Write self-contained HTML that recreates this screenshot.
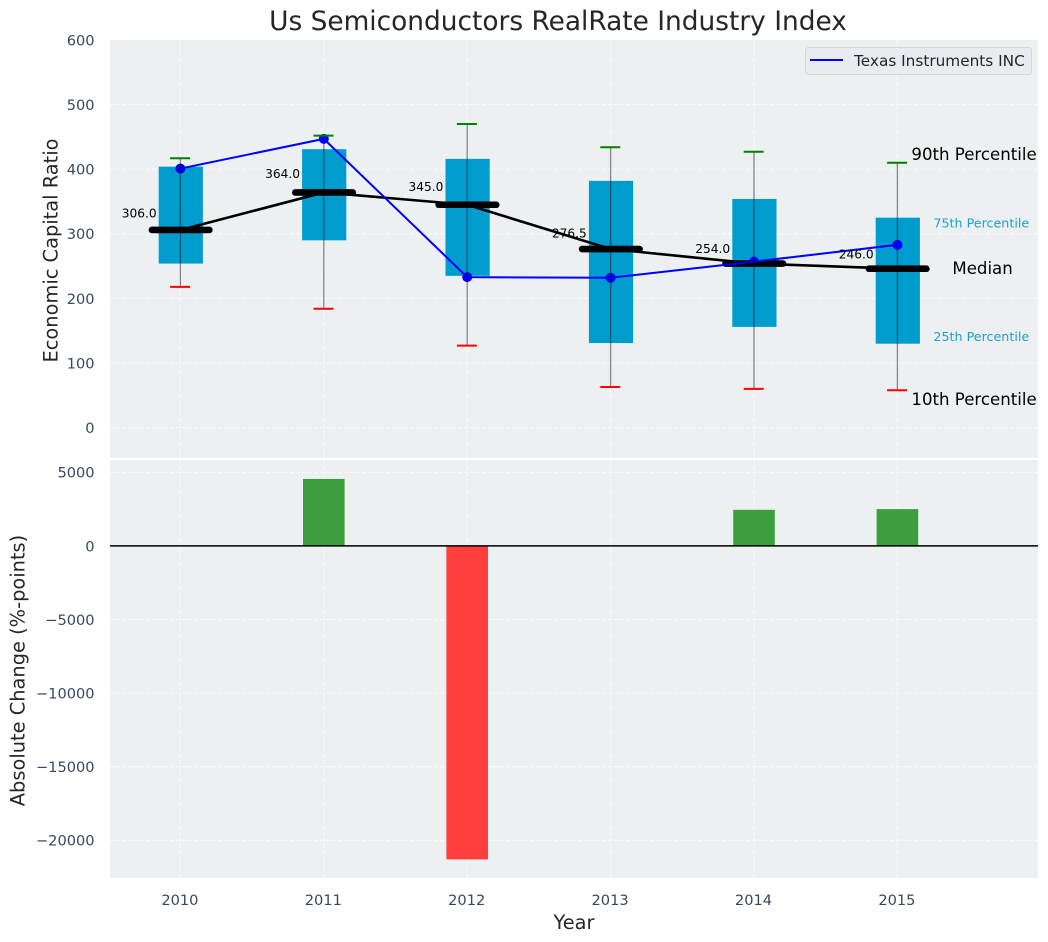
<!DOCTYPE html>
<html>
<head>
<meta charset="utf-8">
<title>Us Semiconductors RealRate Industry Index</title>
<style>
html,body{margin:0;padding:0;background:#fff;}
svg{display:block;font-family:"DejaVu Sans","Liberation Sans",sans-serif;}
</style>
</head>
<body>
<svg id="chart" xmlns="http://www.w3.org/2000/svg" width="1048" height="942" viewBox="0 0 1048 942">
  <rect x="0" y="0" width="1048" height="942" fill="#ffffff"/>
  <rect x="110" y="40" width="928" height="418" fill="#ecf0f1"/>
  <rect x="110" y="460" width="928" height="418" fill="#ecf0f1"/>
  <g id="grid" opacity="0.7"></g>
  <g id="bars"></g>
  <line id="zero" stroke="#000" stroke-width="1.5"></line>
  <g id="boxes"></g>
  <g id="medianLine"></g>
  <g id="company"></g>
  <g id="whiskers"></g>
  <g id="labels"></g>
  <g id="ticks"></g>
  <g id="notes"></g>

  <text x="558" y="30" text-anchor="middle" font-size="26.4" fill="#262626">Us Semiconductors RealRate Industry Index</text>
  <text transform="translate(57.3,250.5) rotate(-90)" text-anchor="middle" font-size="19.4" fill="#262626">Economic Capital Ratio</text>
  <text transform="translate(24.3,670.5) rotate(-90)" text-anchor="middle" font-size="19.4" fill="#262626">Absolute Change (%-points)</text>
  <text x="574" y="929" text-anchor="middle" font-size="19.4" fill="#262626">Year</text>

  <g>
    <rect x="805.5" y="47.5" width="226" height="27" rx="3" fill="#e9ebf0" stroke="#d4d6da" stroke-width="1"/>
    <line x1="810" y1="60" x2="843" y2="60" stroke="#0000ff" stroke-width="2"/>
    <text x="854" y="66" font-size="15.3" fill="#262626">Texas Instruments INC</text>
  </g>
</svg>
<script>
const years = [2010, 2011, 2012, 2013, 2014, 2015];
const p90 = [417, 452, 470, 434, 427, 410];
const p75 = [404, 431, 416, 382, 354, 325];
const medians = [306, 364, 345, 276.5, 254, 246];
const p25 = [254, 290, 235, 131, 156, 130];
const p10 = [218, 184, 127, 63, 60, 58];
const company = [401, 447, 233, 232, 257, 283];
const changes = [0, 4550, -21300, 0, 2450, 2500];
const topTicks = [0, 100, 200, 300, 400, 500, 600];
const bottomTicks = [5000, 0, -5000, -10000, -15000, -20000];

const NS = 'http://www.w3.org/2000/svg';
const LEFT = 110, RIGHT = 1038;
function x(v) { return 180.4 + (v - 2010) * 143.4; }
function yTop(v) { return 427.7 - v * 0.6462; }
function yBottom(v) { return 545.9 - v * 0.01472; }
function mk(parent, tag, attrs) {
  const el = document.createElementNS(NS, tag);
  for (const k in attrs) el.setAttribute(k, attrs[k]);
  document.getElementById(parent).appendChild(el);
  return el;
}
function fmt(v) { return String(v).replace('-', '\u2212'); }

// grid
years.forEach(function (yr) {
  const a = mk('grid', 'line', { x1: x(yr), x2: x(yr), y1: 40, y2: 458, stroke: '#ffffff', 'stroke-width': 1.1, 'stroke-dasharray': '4 2' });
  
  
  const b = mk('grid', 'line', { x1: x(yr), x2: x(yr), y1: 460, y2: 878, stroke: '#ffffff', 'stroke-width': 1.1, 'stroke-dasharray': '4 2' });
  
  
  const t = mk('ticks', 'text', { x: x(yr) - 0.5, y: 905, 'text-anchor': 'middle', 'font-size': 14.6, fill: '#34495e' });
  t.textContent = yr;
  
  
});
topTicks.forEach(function (v) {
  if (v < 600) {
    const g = mk('grid', 'line', { x1: LEFT, x2: RIGHT, y1: yTop(v), y2: yTop(v), stroke: '#ffffff', 'stroke-width': 1.1, 'stroke-dasharray': '4 2' });
    
    
  }
  const t = mk('ticks', 'text', { x: 94.6, y: yTop(v) + 5.4, 'text-anchor': 'end', 'font-size': 14.6, fill: '#34495e' });
  t.textContent = fmt(v);
  
  
});
bottomTicks.forEach(function (v) {
  const g = mk('grid', 'line', { x1: LEFT, x2: RIGHT, y1: yBottom(v), y2: yBottom(v), stroke: '#ffffff', 'stroke-width': 1.1, 'stroke-dasharray': '4 2' });
  
  
  const t = mk('ticks', 'text', { x: 94.6, y: yBottom(v) + 5.4, 'text-anchor': 'end', 'font-size': 14.6, fill: '#34495e' });
  t.textContent = fmt(v);
  
  
});

// change bars
changes.forEach(function (v, i) {
  if (v === 0) return;
  const y0 = yBottom(0), y1 = yBottom(v);
  const bar = mk('bars', 'rect', {
    x: x(years[i]) - 20.8, width: 41.6,
    y: Math.min(y0, y1), height: Math.abs(y1 - y0),
    fill: v > 0 ? '#3c9e3f' : '#ff3e3e'
  });
  
  
});
const zero = document.getElementById('zero');
zero.setAttribute('x1', LEFT);
zero.setAttribute('x2', RIGHT);
zero.setAttribute('y1', yBottom(0));
zero.setAttribute('y2', yBottom(0));

// boxes
years.forEach(function (yr, i) {
  const box = mk('boxes', 'rect', {
    x: x(yr) - 21.7, width: 44.2,
    y: yTop(p75[i]), height: yTop(p25[i]) - yTop(p75[i]),
    fill: '#009ccd'
  });
  
  
});

// median trend
const medianPath = mk('medianLine', 'polyline', {
  points: years.map(function (yr, i) { return x(yr) + ',' + yTop(medians[i]); }).join(' '),
  fill: 'none', stroke: '#000000', 'stroke-width': 2.6
});



// company markers, thick medians, then company line
years.forEach(function (yr, i) {
  const dot = mk('company', 'circle', { cx: x(yr), cy: yTop(company[i]), r: 5, fill: '#0000ff' });
  
  
});
years.forEach(function (yr, i) {
  const m = mk('company', 'line', {
    x1: x(yr) - 28.5, x2: x(yr) + 29, y1: yTop(medians[i]), y2: yTop(medians[i]),
    stroke: '#000000', 'stroke-width': 6.6, 'stroke-linecap': 'round'
  });
  
  
});
const companyPath = mk('company', 'polyline', {
  points: years.map(function (yr, i) { return x(yr) + ',' + yTop(company[i]); }).join(' '),
  fill: 'none', stroke: '#0000ff', 'stroke-width': 2
});



// whiskers and caps
years.forEach(function (yr, i) {
  const w = mk('whiskers', 'line', { x1: x(yr), x2: x(yr), y1: yTop(p90[i]), y2: yTop(p10[i]), stroke: '#000000', 'stroke-width': 1.3, opacity: 0.45 });
  
  
  const hi = mk('whiskers', 'line', { x1: x(yr) - 10.3, x2: x(yr) + 9.7, y1: yTop(p90[i]), y2: yTop(p90[i]), stroke: '#008000', 'stroke-width': 2 });
  
  
  const lo = mk('whiskers', 'line', { x1: x(yr) - 10.3, x2: x(yr) + 9.7, y1: yTop(p10[i]), y2: yTop(p10[i]), stroke: '#ff0000', 'stroke-width': 2 });
  
  
});

// median value labels
years.forEach(function (yr, i) {
  const t = mk('labels', 'text', { x: x(yr) - 23.8, y: yTop(medians[i] * 1.056) - 1.3, 'text-anchor': 'end', 'font-size': 12.2, fill: '#000000' });
  t.textContent = medians[i].toFixed(1);
  
  
});

// annotations beside the last box
const last = years.length - 1;
const lastX = x(years[last]);
const n90 = mk('notes', 'text', { x: lastX + 14, y: yTop(p90[last]) - 3, 'font-size': 16.6, fill: '#000000' });
n90.textContent = '90th Percentile';


const n75 = mk('notes', 'text', { x: lastX + 36, y: yTop(p75[last]) + 10, 'font-size': 12.7, fill: '#1a9fd0' });
n75.textContent = '75th Percentile';


const nMed = mk('notes', 'text', { x: lastX + 55, y: yTop(medians[last]) + 5.5, 'font-size': 16.6, fill: '#000000' });
nMed.textContent = 'Median';


const n25 = mk('notes', 'text', { x: lastX + 36, y: yTop(p25[last]) - 2.5, 'font-size': 12.7, fill: '#1a9fd0' });
n25.textContent = '25th Percentile';


const n10 = mk('notes', 'text', { x: lastX + 14, y: yTop(p10[last]) + 15, 'font-size': 16.6, fill: '#000000' });
n10.textContent = '10th Percentile';


</script>
</body>
</html>
